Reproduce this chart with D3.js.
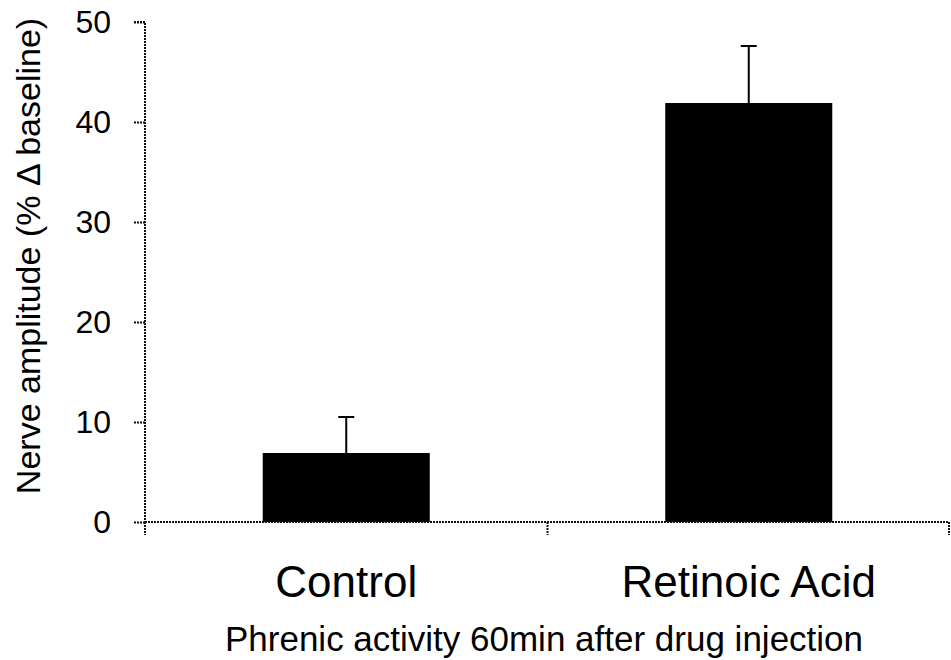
<!DOCTYPE html>
<html>
<head>
<meta charset="utf-8">
<script src="https://cdn.jsdelivr.net/npm/d3@7"></script>
<style>
  body { margin: 0; background: #fff; }
  text { font-family: "Liberation Sans", Arial, sans-serif; fill: #000; }
</style>
</head>
<body>
<div id="chart"></div>
<script>
// data
const groups = ["Control", "Retinoic Acid"];
const means = [6.9, 41.9];
const errors = [3.6, 5.7];
const yTicks = [0, 10, 20, 30, 40, 50];

const width = 951, height = 660;
const margin = { top: 22, right: 1, bottom: 138, left: 145 };

const svg = d3.select("#chart")
  .append("svg")
  .attr("width", width)
  .attr("height", height);

const x = d3.scaleBand()
  .domain(groups)
  .range([margin.left, width - margin.right])
  .paddingInner(0.585)
  .paddingOuter(0.2925);

const y = d3.scaleLinear()
  .domain([0, 50])
  .range([height - margin.bottom, margin.top]);

const data = groups.map((g, i) => ({ group: g, mean: means[i], err: errors[i] }));

// bars
svg.selectAll("rect.bar")
  .data(data)
  .enter()
  .append("rect")
  .attr("class", "bar")
  .attr("x", d => x(d.group))
  .attr("y", d => y(d.mean))
  .attr("width", x.bandwidth())
  .attr("height", d => y(0) - y(d.mean))
  .attr("fill", "#000");

// error bars (upper only)
const err = svg.selectAll("g.err")
  .data(data)
  .enter()
  .append("g")
  .attr("class", "err")
  .attr("stroke", "#000")
  .attr("stroke-width", 2);

err.append("line")
  .attr("x1", d => x(d.group) + x.bandwidth() / 2)
  .attr("x2", d => x(d.group) + x.bandwidth() / 2)
  .attr("y1", d => y(d.mean))
  .attr("y2", d => y(d.mean + d.err));

err.append("line")
  .attr("x1", d => x(d.group) + x.bandwidth() / 2 - 8)
  .attr("x2", d => x(d.group) + x.bandwidth() / 2 + 8)
  .attr("y1", d => y(d.mean + d.err))
  .attr("y2", d => y(d.mean + d.err));

// y axis
const yAxis = svg.append("g")
  .attr("transform", `translate(${margin.left},0)`)
  .call(d3.axisLeft(y).tickValues(yTicks).tickSize(11).tickPadding(23));

yAxis.select(".domain")
  .attr("d", `M${-11},${y(50)}H0V${y(0)}`);

yAxis.selectAll("text")
  .style("font-size", "32px")
  .style("font-family", "'Liberation Sans', Arial, sans-serif");

// x axis with boundary ticks
const bounds = [margin.left, margin.left + x.step(), width - margin.right - 1];
const xAxis = svg.append("g").attr("transform", `translate(0,${y(0)})`);
xAxis.append("line")
  .attr("x1", margin.left).attr("x2", width - margin.right - 1)
  .attr("y1", 0).attr("y2", 0);
xAxis.selectAll("line.tick")
  .data(bounds)
  .enter()
  .append("line")
  .attr("class", "tick")
  .attr("x1", d => d).attr("x2", d => d)
  .attr("y1", 0).attr("y2", 13);

svg.selectAll(".domain, .tick line, g line")
  .filter(function() { return !this.closest(".err"); })
  .attr("stroke", "#111")
  .attr("stroke-width", 2)
  .attr("stroke-dasharray", "2,1");

// category labels
svg.selectAll("text.cat")
  .data(groups)
  .enter()
  .append("text")
  .attr("class", "cat")
  .attr("x", d => x(d) + x.bandwidth() / 2)
  .attr("y", 597)
  .attr("text-anchor", "middle")
  .style("font-size", "44px")
  .text(d => d);

// x title
svg.append("text")
  .attr("x", 544)
  .attr("y", 651)
  .attr("text-anchor", "middle")
  .style("font-size", "35px")
  .text("Phrenic activity 60min after drug injection");

// y title
svg.append("text")
  .attr("transform", `translate(40,${(y(0) + y(50)) / 2 - 16}) rotate(-90)`)
  .attr("text-anchor", "middle")
  .style("font-size", "34px")
  .text("Nerve amplitude (% \u0394 baseline)");
</script>
</body>
</html>
